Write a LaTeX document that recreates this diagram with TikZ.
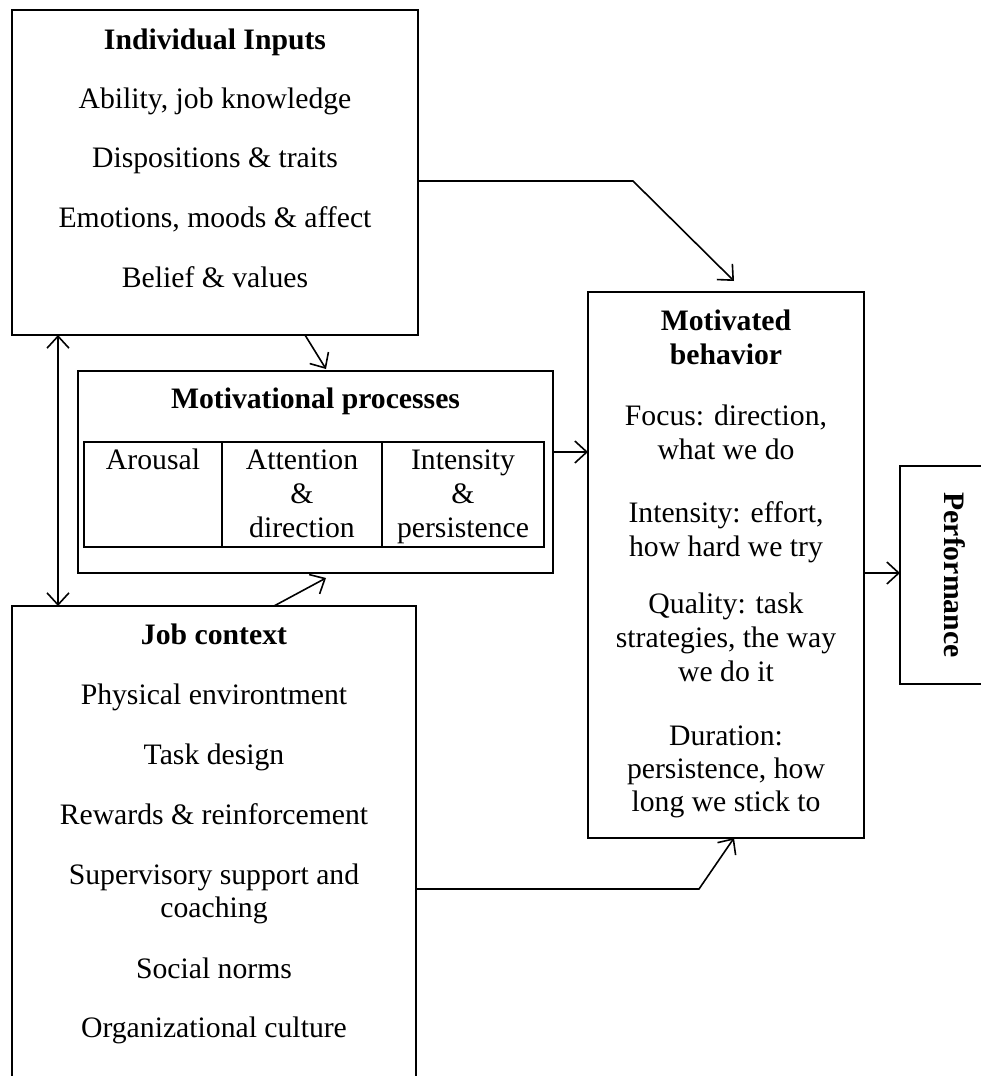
\documentclass[tikz,border=0pt]{standalone}
\usepackage{fontspec}
\setmainfont{Liberation Serif}
\usetikzlibrary{arrows.meta}
\begin{document}
\begin{tikzpicture}[x=1pt,y=-1pt,
  box/.style={draw, line width=2.4pt, inner sep=0pt, outer sep=0pt},
  cell/.style={draw, line width=2pt, inner sep=0pt, outer sep=0pt},
  conn/.style={line width=1.6pt, -{Straight Barb[length=12pt,width=22pt]}},
  dconn/.style={line width=1.6pt, {Straight Barb[length=12pt,width=22pt]}-{Straight Barb[length=12pt,width=22pt]}},
  txt/.style={anchor=base, inner sep=0pt, font=\fontsize{29.7}{34}\selectfont},
  btxt/.style={anchor=base, inner sep=0pt, font=\fontsize{29.7}{34}\selectfont\bfseries}]
\useasboundingbox (0,0) rectangle (981,1076);
% boxes
\node[box, minimum width=406pt, minimum height=325pt] (ii) at (215,172.5) {};
\node[box, minimum width=475pt, minimum height=202pt] (mp) at (315.5,472) {};
\node[cell, minimum width=138pt, minimum height=105pt] (c1) at (153,494.5) {};
\node[cell, minimum width=160pt, minimum height=105pt] (c2) at (302,494.5) {};
\node[cell, minimum width=162pt, minimum height=105pt] (c3) at (463,494.5) {};
\node[box, minimum width=404pt, minimum height=494pt] (jc) at (214,853) {};
\node[box, minimum width=276pt, minimum height=546pt] (mb) at (726,565) {};
\node[box, minimum width=115pt, minimum height=218pt] (pf) at (957.5,575) {};
% Individual inputs text
\node[btxt] (ii0) at (215,49) {Individual Inputs};
\node[txt] (ii1) at (215,108) {Ability, job knowledge};
\node[txt] (ii2) at (215,167) {Dispositions \& traits};
\node[txt] (ii3) at (215,227) {Emotions, moods \& affect};
\node[txt] (ii4) at (215,287) {Belief \& values};
% Motivational processes text
\node[btxt] (mp0) at (315.5,408) {Motivational processes};
\node[txt] (c1a) at (153,469) {Arousal};
\node[txt] (c2a) at (302,469) {Attention};
\node[txt] (c2b) at (302,503) {\&};
\node[txt] (c2c) at (302,537) {direction};
\node[txt] (c3a) at (463,469) {Intensity};
\node[txt] (c3b) at (463,503) {\&};
\node[txt] (c3c) at (463,537) {persistence};
% Job context text
\node[btxt] (jc0) at (214,644) {Job context};
\node[txt] (jc1) at (214,704) {Physical environtment};
\node[txt] (jc2) at (214,764) {Task design};
\node[txt] (jc3) at (214,824) {Rewards \& reinforcement};
\node[txt] (jc4) at (214,884) {Supervisory support and};
\node[txt] (jc5) at (214,917) {coaching};
\node[txt] (jc6) at (214,978) {Social norms};
\node[txt] (jc7) at (214,1037) {Organizational culture};
% Motivated behavior text
\node[btxt] (mb0) at (726,330) {Motivated};
\node[btxt] (mb1) at (726,364) {behavior};
\node[txt] (mb2) at (726,425) {Focus: direction,};
\node[txt] (mb3) at (726,459) {what we do};
\node[txt] (mb4) at (726,522) {Intensity: effort,};
\node[txt] (mb5) at (726,556) {how hard we try};
\node[txt] (mb6) at (726,613) {Quality: task};
\node[txt] (mb7) at (726,647) {strategies, the way};
\node[txt] (mb8) at (726,681) {we do it};
\node[txt] (mb9) at (726,745) {Duration:};
\node[txt] (mb10) at (726,778) {persistence, how};
\node[txt] (mb11) at (726,811) {long we stick to};
% Performance
\node[inner sep=0pt, rotate=-90, font=\fontsize{29.7}{34}\selectfont\bfseries] (pft) at (955,575) {Performance};
% connectors
\coordinate (b1) at (633,181);
\coordinate (e1) at (734,281);
\draw[conn] (ii.east |- b1) -- (b1) -- (e1);
\coordinate (e2) at (326,369);
\draw[conn] (ii.south -| 305,0) -- (e2);
\draw[dconn] (ii.south -| 58,0) -- (jc.north -| 58,0);
\coordinate (e4) at (326,578);
\draw[conn] (jc.north -| 274,0) -- (e4);
\draw[conn] (mp.east |- 0,452) -- (mb.west |- 0,452);
\draw[conn] (mb.east |- 0,573) -- (pf.west |- 0,573);
\coordinate (b7) at (699,889);
\draw[conn] (jc.east |- b7) -- (b7) -- (mb.south -| 734,0);
\end{tikzpicture}
\end{document}
